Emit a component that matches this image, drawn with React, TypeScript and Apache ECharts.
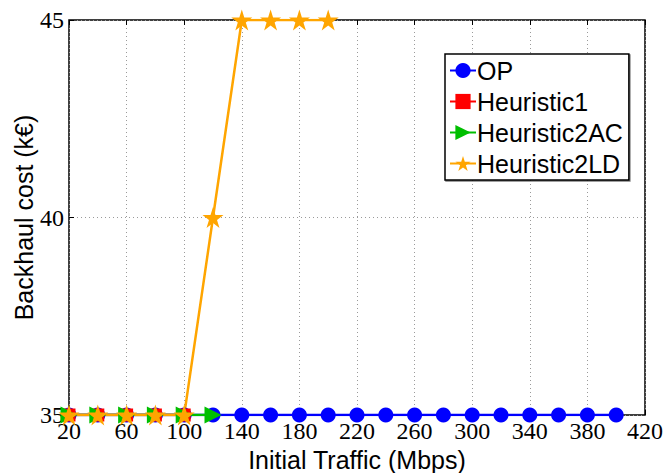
import React, { useEffect, useRef } from "react";
import * as echarts from "echarts";

// Initial traffic (Mbps) sampled for each strategy
const opTraffic = [20, 40, 60, 80, 100, 120, 140, 160, 180, 200, 220, 240, 260, 280, 300, 320, 340, 360, 380, 400];
const opCost = [35, 35, 35, 35, 35, 35, 35, 35, 35, 35, 35, 35, 35, 35, 35, 35, 35, 35, 35, 35];

const h1Traffic = [20, 40, 60, 80, 100];
const h1Cost = [35, 35, 35, 35, 35];

const h2acTraffic = [20, 40, 60, 80, 100, 120];
const h2acCost = [35, 35, 35, 35, 35, 35];

const h2ldTraffic = [20, 40, 60, 80, 100, 120, 140, 160, 180, 200];
const h2ldCost = [35, 35, 35, 35, 35, 40, 45, 45, 45, 45];

const seriesNames = ["OP", "Heuristic1", "Heuristic2AC", "Heuristic2LD"];

const pairs = (xs: number[], ys: number[]) => xs.map((x, i) => [x, ys[i]]);

const STAR =
  "path://M50,0 L61.8,36.2 L100,36.2 L69.1,58.8 L80.9,95.1 L50,72.7 L19.1,95.1 L30.9,58.8 L0,36.2 L38.2,36.2 Z";

export default function App() {
  const ref = useRef<HTMLDivElement>(null);

  useEffect(() => {
    if (!ref.current) return;
    const chart = echarts.init(ref.current, undefined, { renderer: "svg" });

    const serif = "Liberation Serif";
    const sans = "Liberation Sans";
    const gridLine = { show: true, lineStyle: { color: "#9a9a9a", type: [1, 3] as any, width: 1 } };

    chart.setOption({
      animation: false,
      backgroundColor: "#fff",
      grid: {
        left: 69,
        right: 20,
        top: 20,
        bottom: 58,
        outerBoundsMode: "none",
        containLabel: false,
        show: true,
        borderColor: "#000",
        borderWidth: 1.5,
        backgroundColor: "transparent",
      },
      legend: {
        orient: "vertical",
        left: 445,
        top: 54,
        padding: [4, 6, 4, 4],
        itemGap: 6,
        itemWidth: 26,
        itemHeight: 19,
        backgroundColor: "#fff",
        borderColor: "#000",
        borderWidth: 1.5,
        shadowColor: "rgba(0,0,0,0.5)",
        shadowOffsetX: 1,
        shadowOffsetY: 1,
        shadowBlur: 1,
        textStyle: { fontFamily: sans, fontSize: 25, color: "#000", padding: [0, 0, 0, -4] },
        data: seriesNames,
      },
      xAxis: [
        {
          type: "value",
          min: 20,
          max: 420,
          interval: 40,
          name: "Initial Traffic (Mbps)",
          nameLocation: "middle",
          nameGap: 30,
          nameTextStyle: { fontFamily: sans, fontSize: 25, color: "#000" },
          axisLine: { show: false },
          axisTick: { show: true, inside: true, length: 5, lineStyle: { color: "#000" } },
          axisLabel: { fontFamily: serif, fontSize: 24, color: "#000", margin: 4 },
          splitLine: gridLine,
        },
        {
          type: "value",
          position: "top",
          min: 20,
          max: 420,
          interval: 40,
          axisLine: { show: false },
          axisTick: { show: true, inside: true, length: 5, lineStyle: { color: "#000" } },
          axisLabel: { show: false },
          splitLine: { show: false },
        },
      ],
      yAxis: {
        type: "value",
        min: 35,
        max: 45,
        interval: 5,
        name: "Backhaul cost (k€)",
        nameLocation: "middle",
        nameGap: 33,
        nameMoveOverlap: false,
        nameTextStyle: { fontFamily: sans, fontSize: 25, color: "#000" },
        axisLine: { show: false },
        axisTick: { show: true, inside: true, length: 5, lineStyle: { color: "#000" } },
        axisLabel: { fontFamily: serif, fontSize: 24, color: "#000", margin: 5 },
        splitLine: gridLine,
      },
      series: [
        {
          name: "OP",
          type: "line",
          data: pairs(opTraffic, opCost),
          symbol: "circle",
          symbolSize: 15,
          lineStyle: { color: "#0000ff", width: 2.5 },
          itemStyle: { color: "#0000ff" },
        },
        {
          name: "Heuristic1",
          type: "line",
          data: pairs(h1Traffic, h1Cost),
          symbol: "rect",
          symbolSize: 13,
          lineStyle: { color: "#ff0000", width: 2.5 },
          itemStyle: { color: "#ff0000" },
        },
        {
          name: "Heuristic2AC",
          type: "line",
          data: pairs(h2acTraffic, h2acCost),
          symbol: "triangle",
          symbolRotate: -90,
          symbolSize: 17,
          lineStyle: { color: "#00bf00", width: 2.5 },
          itemStyle: { color: "#00bf00" },
        },
        {
          name: "Heuristic2LD",
          type: "line",
          data: pairs(h2ldTraffic, h2ldCost),
          symbol: STAR,
          symbolSize: 21,
          lineStyle: { color: "#ffa500", width: 2.5 },
          itemStyle: { color: "#ffa500" },
        },
      ],
    });

    return () => chart.dispose();
  }, []);

  return <div ref={ref} style={{ width: 665, height: 473, position: "absolute", left: 0, top: 0 }} />;
}
